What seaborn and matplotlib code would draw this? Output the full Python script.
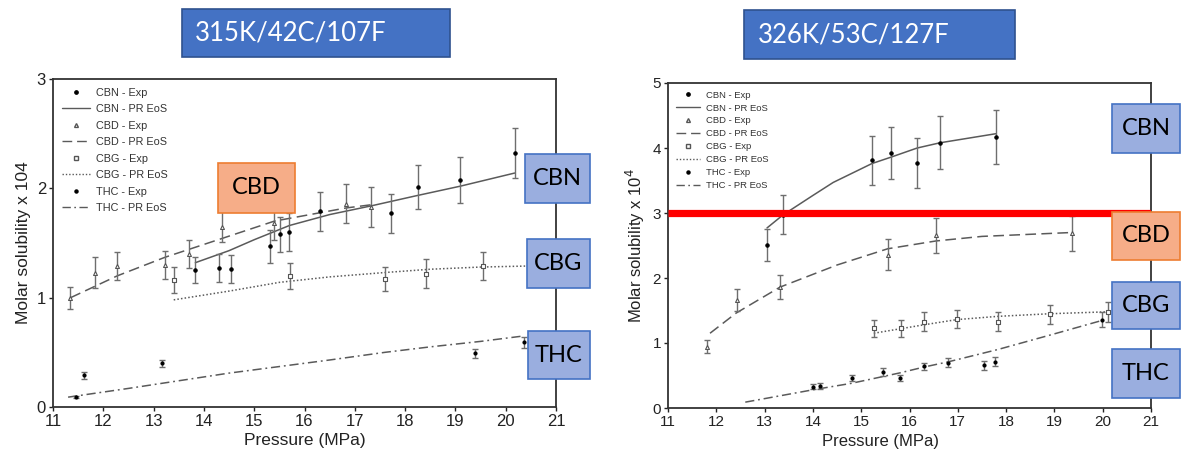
import matplotlib.pyplot as plt
import matplotlib.patches as mpatches
from matplotlib.lines import Line2D
import pandas as pd
import seaborn as sns

# ---- 315 K panel: experimental points (pressure MPa, solubility x 1e4, error)
l_cbn_p = [13.83, 14.30, 14.53, 15.32, 15.52, 15.70, 16.30, 17.71, 18.25, 19.09, 20.18]
l_cbn_s = [1.25, 1.27, 1.26, 1.47, 1.58, 1.60, 1.79, 1.77, 2.01, 2.08, 2.32]
l_cbn_e = [0.12, 0.13, 0.13, 0.15, 0.16, 0.17, 0.18, 0.18, 0.20, 0.21, 0.23]
l_cbd_p = [11.34, 11.84, 12.28, 13.23, 13.70, 14.35, 15.40, 16.82, 17.33]
l_cbd_s = [1.00, 1.23, 1.29, 1.30, 1.40, 1.65, 1.68, 1.86, 1.83]
l_cbd_e = [0.10, 0.14, 0.13, 0.13, 0.13, 0.14, 0.15, 0.18, 0.18]
l_cbg_p = [13.40, 15.72, 17.61, 18.41, 19.55]
l_cbg_s = [1.16, 1.20, 1.17, 1.22, 1.29]
l_cbg_e = [0.12, 0.12, 0.11, 0.13, 0.13]
l_thc_p = [11.46, 11.62, 13.17, 19.39, 20.36]
l_thc_s = [0.09, 0.29, 0.40, 0.49, 0.59]
l_thc_e = [0.01, 0.03, 0.03, 0.04, 0.05]

# ---- 315 K panel: PR EoS curves
l_cbn_mp = [13.83, 14.5, 15.0, 15.7, 16.5, 17.33, 18.2, 19.1, 20.18]
l_cbn_ms = [1.32, 1.43, 1.53, 1.66, 1.76, 1.84, 1.93, 2.02, 2.14]
l_cbd_mp = [11.35, 12.28, 13.23, 14.35, 15.4, 16.82, 17.33]
l_cbd_ms = [1.00, 1.20, 1.37, 1.54, 1.70, 1.82, 1.85]
l_cbg_mp = [13.4, 14.5, 15.5, 16.5, 17.6, 18.5, 19.5, 20.5]
l_cbg_ms = [0.98, 1.06, 1.14, 1.19, 1.23, 1.26, 1.28, 1.29]
l_thc_mp = [11.3, 12.5, 13.5, 14.5, 15.5, 16.5, 17.6, 18.5, 19.5, 20.36]
l_thc_ms = [0.09, 0.17, 0.24, 0.31, 0.37, 0.43, 0.50, 0.55, 0.60, 0.65]

# ---- 326 K panel: experimental points
r_cbn_p = [13.05, 13.38, 15.22, 15.62, 16.16, 16.63, 17.79]
r_cbn_s = [2.51, 2.97, 3.81, 3.92, 3.77, 4.08, 4.17]
r_cbn_e = [0.25, 0.30, 0.38, 0.40, 0.38, 0.41, 0.42]
r_cbd_p = [11.81, 12.42, 13.32, 15.55, 16.55, 19.36]
r_cbd_s = [0.94, 1.66, 1.86, 2.36, 2.66, 2.69]
r_cbd_e = [0.10, 0.17, 0.19, 0.24, 0.27, 0.27]
r_cbg_p = [15.26, 15.82, 16.30, 16.98, 17.83, 18.90, 20.10]
r_cbg_s = [1.23, 1.23, 1.33, 1.37, 1.33, 1.44, 1.48]
r_cbg_e = [0.13, 0.13, 0.14, 0.14, 0.14, 0.15, 0.15]
r_thc_p = [14.00, 14.15, 14.81, 15.45, 15.80, 16.30, 16.80, 17.54, 17.77, 19.99]
r_thc_s = [0.33, 0.34, 0.46, 0.56, 0.46, 0.64, 0.70, 0.66, 0.71, 1.36]
r_thc_e = [0.04, 0.04, 0.05, 0.06, 0.05, 0.06, 0.07, 0.07, 0.07, 0.12]

# ---- 326 K panel: PR EoS curves
r_cbn_mp = [13.05, 13.38, 14.0, 14.42, 15.22, 15.62, 16.16, 16.63, 17.79]
r_cbn_ms = [2.77, 2.97, 3.27, 3.47, 3.76, 3.86, 4.00, 4.08, 4.22]
r_cbd_mp = [11.87, 12.41, 13.32, 14.5, 15.55, 16.55, 17.5, 19.36]
r_cbd_ms = [1.15, 1.46, 1.86, 2.20, 2.45, 2.57, 2.64, 2.70]
r_cbg_mp = [15.26, 15.82, 16.3, 16.98, 17.83, 18.9, 20.1]
r_cbg_ms = [1.15, 1.22, 1.28, 1.36, 1.41, 1.45, 1.48]
r_thc_mp = [12.6, 14.0, 14.8, 15.8, 16.3, 16.8, 17.83, 18.9, 20.0]
r_thc_ms = [0.09, 0.28, 0.38, 0.54, 0.63, 0.71, 0.90, 1.12, 1.35]

red_level = 3.0
x_ticks = list(range(11, 22))

W, H = 1184, 453
LINE = "#5a5a5a"
ERR = "#6e6e6e"

sns.set_theme(style="white")
plt.rcParams["font.family"] = ["Liberation Sans", "DejaVu Sans"]

fig = plt.figure(figsize=(W / 100, H / 100), dpi=100)


def px_axes(x0, y0, x1, y1):
    return fig.add_axes([x0 / W, 1 - y1 / H, (x1 - x0) / W, (y1 - y0) / H])


styles = {
    "CBN": dict(marker="o", ms=2.4, mfc="black", mec="black", ls="-"),
    "CBD": dict(marker="^", ms=2.8, mfc="white", mec="#555555", ls=(0, (7, 3.5))),
    "CBG": dict(marker="s", ms=2.6, mfc="white", mec="#555555", ls=(0, (1, 1.4))),
    "THC": dict(marker="o", ms=2.2, mfc="black", mec="black", ls=(0, (6, 2.5, 1.2, 2.5))),
}


def draw_panel(ax, exp, model, ymax, tick_fs, lab_fs, leg_fs, leg_sp, ylab):
    for name, (p, s) in model.items():
        df = pd.DataFrame({"p": p, "s": s})
        sns.lineplot(data=df, x="p", y="s", ax=ax, color=LINE, lw=1.1,
                     linestyle=styles[name]["ls"], sort=False, estimator=None)
    for name, (p, s, e) in exp.items():
        st = styles[name]
        ax.errorbar(p, s, yerr=e, fmt="none", ecolor=ERR, elinewidth=1.0,
                    capsize=2.5, capthick=1.0, zorder=3)
        df = pd.DataFrame({"p": p, "s": s})
        sns.scatterplot(data=df, x="p", y="s", ax=ax, marker=st["marker"],
                        s=st["ms"] ** 2, color=st["mfc"], edgecolor=st["mec"],
                        linewidth=0.8, zorder=4)
    ax.set_xlim(11, 21)
    ax.set_ylim(0, ymax)
    ax.set_xticks(x_ticks)
    ax.set_yticks(range(0, ymax + 1))
    ax.tick_params(direction="out", length=3, width=1, labelsize=tick_fs,
                   colors="#222222", pad=2, bottom=True, left=True)
    for sp in ax.spines.values():
        sp.set_color("#333333")
        sp.set_linewidth(1.3)
    ax.set_xlabel("Pressure (MPa)", fontsize=lab_fs, color="#222222", labelpad=3)
    ax.set_ylabel(ylab, fontsize=lab_fs, color="#222222", labelpad=4)

    handles = []
    for name in ["CBN", "CBD", "CBG", "THC"]:
        st = styles[name]
        handles.append(Line2D([], [], ls="none", marker=st["marker"], ms=st["ms"],
                              mfc=st["mfc"], mec=st["mec"], label=f"{name} - Exp"))
        handles.append(Line2D([], [], color=LINE, lw=1.0, ls=st["ls"],
                              label=f"{name} - PR EoS"))
    ax.legend(handles=handles, loc="upper left", frameon=False, fontsize=leg_fs,
              labelspacing=leg_sp, handlelength=2.6, handletextpad=0.6,
              borderaxespad=0.4, labelcolor="#333333")


def box(x0, y0, x1, y1, text, face, edge, tcolor, fs, left_pad=None):
    fig.add_artist(mpatches.Rectangle((x0 / W, 1 - y1 / H), (x1 - x0) / W,
                                      (y1 - y0) / H, transform=fig.transFigure,
                                      facecolor=face, edgecolor=edge, lw=1.2,
                                      zorder=10))
    if left_pad is None:
        tx, ha = (x0 + x1) / 2 / W, "center"
    else:
        tx, ha = (x0 + left_pad) / W, "left"
    fig.text(tx, 1 - (y0 + y1) / 2 / H, text, ha=ha,
             va="center", fontsize=fs, color=tcolor, family=["Lato", "DejaVu Sans"],
             zorder=11)


axl = px_axes(53, 79, 556, 407)
draw_panel(axl,
           {"CBN": (l_cbn_p, l_cbn_s, l_cbn_e), "CBD": (l_cbd_p, l_cbd_s, l_cbd_e),
            "CBG": (l_cbg_p, l_cbg_s, l_cbg_e), "THC": (l_thc_p, l_thc_s, l_thc_e)},
           {"CBN": (l_cbn_mp, l_cbn_ms), "CBD": (l_cbd_mp, l_cbd_ms),
            "CBG": (l_cbg_mp, l_cbg_ms), "THC": (l_thc_mp, l_thc_ms)},
           3, 12, 12.5, 7.8, 0.6, "Molar solubility x 104")

axr = px_axes(668, 83, 1151, 408)
draw_panel(axr,
           {"CBN": (r_cbn_p, r_cbn_s, r_cbn_e), "CBD": (r_cbd_p, r_cbd_s, r_cbd_e),
            "CBG": (r_cbg_p, r_cbg_s, r_cbg_e), "THC": (r_thc_p, r_thc_s, r_thc_e)},
           {"CBN": (r_cbn_mp, r_cbn_ms), "CBD": (r_cbd_mp, r_cbd_ms),
            "CBG": (r_cbg_mp, r_cbg_ms), "THC": (r_thc_mp, r_thc_ms)},
           5, 11, 12, 6.8, 0.42, "Molar solubility x 10$^4$")
axr.xaxis.set_label_coords(0.44, -0.08)
axr.axhline(red_level, color="#ff0000", lw=5.2, zorder=6, solid_capstyle="butt")

BLUE_T, BLUE_TE = "#4472c4", "#2f528f"
LBLUE, LBLUE_E = "#9aaedf", "#4472c4"
ORANGE, ORANGE_E = "#f6ad88", "#ed7d31"

box(182, 9, 450, 57, "315K/42C/107F", BLUE_T, BLUE_TE, "white", 18.5, left_pad=13)
box(744, 10, 1015, 59, "326K/53C/127F", BLUE_T, BLUE_TE, "white", 18.5, left_pad=14)

box(218, 163, 295, 213, "CBD", ORANGE, ORANGE_E, "black", 17)
box(525, 154, 590, 203, "CBN", LBLUE, LBLUE_E, "black", 17)
box(527, 239, 590, 288, "CBG", LBLUE, LBLUE_E, "black", 17)
box(528, 331, 590, 379, "THC", LBLUE, LBLUE_E, "black", 17)

box(1112, 104, 1180, 153, "CBN", LBLUE, LBLUE_E, "black", 17)
box(1112, 212, 1180, 260, "CBD", ORANGE, ORANGE_E, "black", 17)
box(1112, 282, 1180, 329, "CBG", LBLUE, LBLUE_E, "black", 17)
box(1112, 349, 1180, 398, "THC", LBLUE, LBLUE_E, "black", 17)

fig.savefig("out.png", dpi=100)
